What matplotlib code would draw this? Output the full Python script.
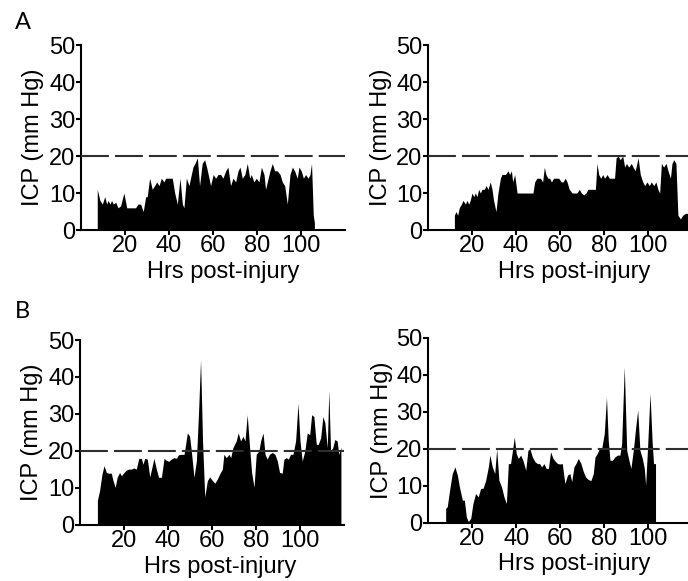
import matplotlib.pyplot as plt

plt.rcParams['font.family'] = ['Liberation Sans', 'DejaVu Sans']

# panel A, left patient
hrs_a1 = [7.4, 8.6, 9.7, 10.8, 11.7, 12.3, 13.2, 13.9, 14.7, 15.8, 16.8, 18.0, 19.5, 20.8,
          21.8, 23.3, 24.8, 25.9, 27.1, 28.3, 29.4, 30.1, 31.2, 32.4, 33.5, 34.4, 35.5,
          36.5, 37.7, 38.5, 40.0, 41.5, 42.6, 43.8, 45.0, 46.1, 46.8, 47.9, 49.1, 49.8,
          50.9, 51.8, 52.9, 53.9, 55.1, 56.2, 57.1, 58.2, 58.9, 60.1, 61.2, 62.3, 63.5,
          64.5, 65.8, 66.8, 68.0, 69.1, 70.3, 71.4, 72.3, 73.3, 74.5, 75.6, 76.7, 77.4,
          78.6, 79.7, 80.9, 82.0, 83.2, 83.9, 84.7, 85.9, 87.0, 88.0, 89.2, 90.5, 91.5,
          92.6, 93.8, 95.0, 96.1, 97.1, 98.3, 99.1, 100.1, 101.1, 102.1, 103.2, 104.1,
          104.8, 105.6, 106.1]
icp_a1 = [11, 8, 7, 9, 7, 8, 7, 8, 7, 7.5, 6, 6.5, 10, 6,
          6, 6, 6, 7, 7, 5, 9, 9, 14, 11, 12, 13, 12,
          14, 13, 14, 14, 14, 10, 7, 14, 7, 6, 14, 12, 14,
          17, 18, 19.5, 12, 18, 19, 17, 14, 12, 15, 14, 15, 15,
          14, 16, 17, 12, 14, 13, 16, 17, 14, 15, 18, 14, 15,
          13, 14, 13, 17, 15, 11, 13, 16, 18, 16, 16, 15, 13,
          12, 7, 15, 17, 16, 14, 17, 16, 14, 15, 14, 15,
          18, 4, 2]

# panel A, right patient
hrs_a2 = [12.0, 12.7, 13.5, 14.2, 15.2, 15.9, 17.0, 17.7, 18.5, 19.2, 20.0, 20.8, 21.5,
          22.3, 23.0, 23.8, 24.5, 25.6, 26.4, 27.3, 28.3, 29.1, 29.8, 30.9, 31.8, 32.9,
          33.6, 35.2, 36.4, 37.1, 37.9, 38.5, 39.4, 40.5, 42.0, 43.5, 45.0, 46.5, 47.7,
          48.5, 49.5, 51.1, 52.1, 52.9, 53.6, 54.5, 55.3, 56.1, 57.1, 58.2, 59.4, 60.5,
          61.4, 62.4, 63.2, 64.2, 65.5, 66.7, 67.7, 68.8, 69.7, 70.8, 71.8, 72.7, 73.8,
          75.0, 76.1, 76.8, 77.6, 78.5, 79.4, 80.3, 81.4, 82.4, 83.6, 84.8, 85.5, 86.4,
          87.4, 88.5, 89.4, 90.2, 91.2, 92.4, 93.2, 94.2, 95.5, 96.5, 97.6, 98.5, 99.5,
          100.6, 101.5, 102.6, 103.6, 104.5, 105.3, 106.1, 107.1, 108.2, 109.1, 110.2,
          110.9, 111.7, 112.7, 113.6, 114.7, 115.8, 117.0, 118.5]
icp_a2 = [4, 5, 4, 6, 7, 8, 7, 8, 7, 8, 10, 9, 10,
          9, 11, 10, 11, 11, 12, 11, 13, 11, 8, 5, 10, 14,
          15, 15, 16, 15, 16, 13, 15, 10, 10, 10, 10, 10, 10,
          13, 14, 14, 13, 17, 15, 14, 14, 13, 14, 14, 14, 13,
          13, 14, 13, 11, 10, 10, 10, 11, 10, 9.5, 10, 11, 11,
          11, 11, 18, 15, 14, 15, 14, 15, 14, 14, 14, 19.5, 20,
          19, 20, 17, 18, 17, 18, 17, 16, 19.5, 15, 13, 12, 13,
          12, 13, 12, 13, 11, 10, 18, 17, 18, 16, 14,
          18, 19, 18, 4, 3, 4, 4.5, 4.5]

# panel B, left patient
hrs_b1 = [7.9, 8.9, 10.0, 10.9, 12.0, 13.0, 14.2, 15.0, 16.0, 16.9, 18.0, 18.8, 20.0,
          21.0, 22.1, 23.3, 24.5, 25.6, 26.7, 27.9, 28.6, 29.4, 30.6, 31.7, 32.7, 33.6,
          34.7, 35.7, 37.0, 38.2, 39.2, 40.3, 41.5, 42.7, 43.8, 44.8, 46.0, 47.3, 48.0,
          48.8, 49.8, 50.6, 51.8, 52.9, 53.9, 54.8, 55.7, 56.7, 57.9, 58.9, 60.2, 61.3,
          62.4, 63.5, 64.7, 65.4, 66.5, 67.7, 68.5, 69.5, 71.0, 71.9, 73.0, 74.1, 75.0,
          76.0, 77.1, 78.0, 79.1, 80.1, 81.3, 82.1, 83.2, 84.1, 85.1, 86.1, 87.4, 88.6,
          89.7, 90.7, 91.9, 92.7, 93.8, 94.7, 95.7, 96.8, 98.0, 99.1, 100.0, 101.0, 102.2,
          103.3, 104.4, 105.3, 106.3, 107.4, 108.3, 109.4, 110.4, 111.3, 112.4, 113.1,
          113.9, 114.9, 115.8, 116.9, 117.6, 118.6]
icp_b1 = [6.7, 9.3, 13.8, 16, 14.2, 14, 14, 12, 10.2, 12.9, 14.2, 13.3, 14.2,
          14.8, 15.1, 15.1, 15.4, 15.1, 18, 18, 16.4, 18, 17.8, 13, 15.6, 18,
          15.1, 12.9, 12.9, 18, 17.5, 17.2, 17.8, 18.2, 18, 19, 19.1, 19.1, 21.8,
          24.9, 24, 20, 12.9, 17.3, 30.7, 44.7, 22.7, 7.6, 12, 13, 12, 11.3,
          12.4, 13.8, 15.1, 19.1, 18.2, 19.1, 18.2, 20.9, 22.7, 24.9, 22.7, 24, 22.7,
          29.8, 20.9, 14.2, 10.2, 19.1, 20, 22.7, 24.9, 19.1, 17.8, 19.1, 19.6, 19.1,
          17.3, 14.2, 14, 17.8, 18.2, 17.8, 19.1, 19.1, 22.7, 32.9, 22.7, 17.3, 20,
          24.9, 24.4, 29.8, 29.3, 21.8, 21.8, 23.6, 29.3, 27.6, 20.9, 36.4,
          20, 20.9, 23.1, 22.7, 19.1, 21]

# panel B, right patient
hrs_b2 = [7.9, 8.6, 9.7, 10.9, 12.1, 13.2, 14.3, 15.5, 16.4, 17.3, 18.2, 19.3, 20.3,
          21.5, 22.7, 23.8, 24.9, 26.1, 27.3, 28.0, 29.1, 30.2, 31.1, 32.1, 33.3, 34.4,
          35.5, 36.4, 37.4, 38.5, 39.1, 40.0, 40.9, 42.0, 43.0, 44.3, 45.3, 46.2, 47.3,
          48.5, 49.6, 50.6, 51.5, 52.6, 53.6, 54.6, 55.6, 56.7, 57.9, 58.8, 59.9, 60.9,
          62.1, 63.3, 64.4, 65.2, 66.2, 67.1, 68.2, 69.4, 70.5, 71.5, 72.7, 73.9, 75.0,
          75.8, 76.8, 77.7, 78.8, 80.0, 81.0, 81.8, 82.6, 83.7, 84.8, 86.0, 87.1, 87.9,
          89.1, 90.2, 91.2, 92.1, 93.2, 94.3, 95.2, 96.2, 97.3, 98.2, 98.8, 99.7, 100.8,
          101.8, 102.4, 103.3]
icp_b2 = [3.9, 4.3, 8.8, 13.3, 15.1, 12.9, 9.3, 6.1, 6.1, 1.6, 0.3, 1.2, 5.2,
          7.9, 7, 9.3, 9.3, 11.5, 15.1, 18.3, 15.1, 13.3, 20, 11.5, 9.7, 7,
          5.2, 16, 16, 20.5, 23.2, 18.7, 17.4, 18.3, 16.9, 14.2, 19.6, 20, 17.8,
          16.5, 16, 16, 15.1, 16, 14.7, 14.7, 19.2, 17.4, 16.5, 16, 15.9, 16,
          10.6, 12.9, 13.3, 11.1, 15.1, 16, 17.4, 16, 13.8, 12.4, 11.7, 11.4, 13.3,
          17.8, 18.7, 20, 20, 24.1, 34, 22.3, 16.9, 16.9, 17.8, 18.3, 18.3, 21.4,
          42.2, 19.6, 16.9, 14.7, 19.6, 25.9, 30.5, 19.6, 17.4, 14.7, 10.2, 20.5, 35,
          21.4, 16, 16]


def draw_panel(ax, hrs, icp, xlab_x, ylab_x):
    ax.fill_between(hrs, icp, 0, color='black', lw=0, zorder=2)
    ax.axhline(20, color='#2e2e2e', lw=1.5, dashes=(13.4, 2.9), zorder=3)
    ax.set_xlim(0, 120)
    ax.set_ylim(0, 50)
    ax.set_xticks([20, 40, 60, 80, 100])
    ax.set_yticks([0, 10, 20, 30, 40, 50])
    for side in ['top', 'right']:
        ax.spines[side].set_visible(False)
    for side in ['left', 'bottom']:
        ax.spines[side].set_linewidth(1.5)
    ax.tick_params(labelsize=17, length=3.6, width=1.5)
    ax.tick_params(axis='y', pad=0.5)
    ax.tick_params(axis='x', pad=0)
    ax.set_xlabel('Hrs post-injury', fontsize=17)
    ax.set_ylabel('ICP (mm Hg)', fontsize=17)
    ax.xaxis.set_label_coords(xlab_x, -0.165)
    ax.yaxis.set_label_coords(ylab_x, 0.5)
    ax.patch.set_alpha(0)


fig = plt.figure(figsize=(6.88, 5.81), dpi=100)
ax_a1 = fig.add_axes([0.1177, 0.6041, 0.3837, 0.3184])
ax_a2 = fig.add_axes([0.6221, 0.6041, 0.3837, 0.3184])
ax_b1 = fig.add_axes([0.1163, 0.0964, 0.3837, 0.3184])
ax_b2 = fig.add_axes([0.6225, 0.1003, 0.3837, 0.318])

draw_panel(ax_a1, hrs_a1, icp_a1, 0.54, -0.14)
draw_panel(ax_a2, hrs_a2, icp_a2, 0.553, -0.135)
draw_panel(ax_b1, hrs_b1, icp_b1, 0.53, -0.14)
draw_panel(ax_b2, hrs_b2, icp_b2, 0.553, -0.135)

fig.text(15 / 688, 1 - 12 / 581, 'A', fontsize=17, family=['Lato', 'DejaVu Sans'],
         ha='left', va='top')
fig.text(15 / 688, 1 - 301 / 581, 'B', fontsize=17, family=['Lato', 'DejaVu Sans'],
         ha='left', va='top')

fig.savefig('out.png', dpi=100)
